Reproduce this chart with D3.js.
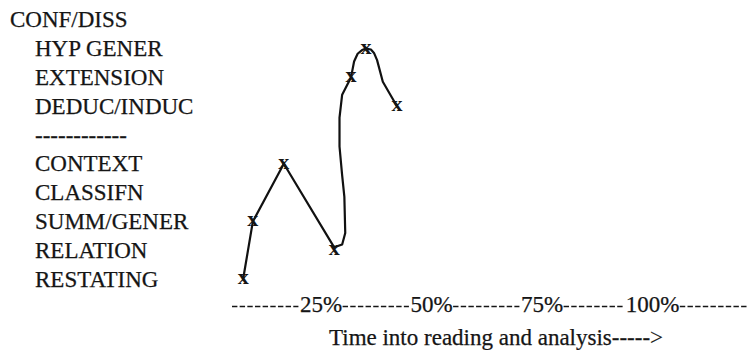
<!DOCTYPE html>
<html>
<head>
<meta charset="utf-8">
<script src="https://cdn.jsdelivr.net/npm/d3@7"></script>
<style>
  html, body { margin: 0; padding: 0; background: #fff; }
  svg { display: block; }
  text { font-family: "Liberation Serif", "DejaVu Serif", serif; fill: #151515; }
</style>
</head>
<body>
<svg id="chart" width="748" height="350"></svg>
<script>
// Category rows, bottom to top
const categories = ["RESTATING", "RELATION", "SUMM/GENER", "CLASSIFN", "CONTEXT",
                    "------------", "DEDUC/INDUC", "EXTENSION", "HYP GENER", "CONF/DISS"];
const headerCategory = "CONF/DISS";

// Marked observations (x) : percent of time, category
const markerPct = [7.5, 9.7, 16.7, 28.1, 31.9, 35.3, 42.3];
const markerCat = ["RESTATING", "SUMM/GENER", "CONTEXT", "RELATION", "EXTENSION", "HYP GENER", "DEDUC/INDUC"];

// Hand-drawn pen trace (percent, row level)
const tracePct   = [7.5, 9.7, 16.7, 28.1, 29.9, 30.6, 30.4, 29.9, 29.3, 29.3, 29.9, 31.9, 32.6, 33.4, 34.4, 35.3, 36.4, 37.1, 37.8, 39.1, 42.3];
const traceLevel = [0.0, 2.0, 4.0, 1.1, 1.2, 1.6, 2.85, 3.6, 4.6, 5.6, 6.4, 7.0, 7.55, 7.82, 7.95, 8.0, 7.97, 7.85, 7.6, 6.85, 6.0];

// X axis ticks
const tickValues = [25, 50, 75, 100];
const tickLabels = ["25%", "50%", "75%", "100%"];
const xTitle = "Time into reading and analysis----->";

const svg = d3.select("#chart");
const FS = 23;

const x = d3.scaleLinear().domain([0, 100]).range([210, 652]);
const y = d3.scaleLinear().domain([0, categories.length - 1]).range([279, 19.8]);
const level = c => categories.indexOf(c);

// Row labels
svg.append("g").selectAll("text")
  .data(categories)
  .join("text")
  .attr("x", d => d === headerCategory ? 10 : 35)
  .attr("y", (d, i) => y(i))
  .attr("dy", "0.33em")
  .style("font-size", FS + "px")
  .style("stroke", "#151515")
  .style("stroke-width", 0.25)
  .text(d => d);

// Trace line
const line = d3.line()
  .x(d => x(d[0]))
  .y(d => y(d[1]))
  .curve(d3.curveLinear);
svg.append("path")
  .datum(tracePct.map((p, i) => [p, traceLevel[i]]))
  .attr("d", line)
  .attr("fill", "none")
  .attr("stroke", "#111")
  .attr("stroke-width", 2.2)
  .attr("stroke-linejoin", "round")
  .attr("stroke-linecap", "round");

// Markers
svg.append("g").selectAll("text")
  .data(markerPct.map((p, i) => [p, level(markerCat[i])]))
  .join("text")
  .attr("x", d => x(d[0]))
  .attr("y", d => y(d[1]))
  .attr("dy", "0.23em")
  .attr("text-anchor", "middle")
  .style("font-size", "22px")
  .style("font-weight", "bold")
  .text("x");

// X axis (typewriter style)
const axisY = 312;
const axis = d3.axisBottom(x)
  .tickValues(tickValues)
  .tickFormat((d, i) => tickLabels[i])
  .tickSize(0);
const gx = svg.append("g").attr("transform", `translate(0,${axisY})`).call(axis);
gx.select(".domain").remove();
gx.selectAll("text")
  .attr("y", 0).attr("dy", 0)
  .attr("fill", "#151515")
  .style("font-size", FS + "px")
  .style("stroke", "#151515")
  .style("stroke-width", 0.25)
  .style("font-family", '"Liberation Serif", serif');

// dashes between labels
const bounds = [];
gx.selectAll(".tick").each(function(d) {
  const w = this.querySelector("text").getComputedTextLength();
  bounds.push([x(d) - w / 2, x(d) + w / 2]);
});
const segs = [];
let start = 232;
bounds.forEach(b => { segs.push([start, b[0] - 1]); start = b[1] + 1; });
segs.push([start, 752]);
svg.append("g").selectAll("line")
  .data(segs)
  .join("line")
  .attr("x1", d => d[0]).attr("x2", d => d[1])
  .attr("y1", axisY - 5.5).attr("y2", axisY - 5.5)
  .attr("stroke", "#151515")
  .attr("stroke-width", 1.7)
  .attr("stroke-dasharray", "5.4,2.26");

svg.append("text")
  .attr("x", 329)
  .attr("y", 345)
  .style("font-size", FS + "px")
  .style("stroke", "#151515")
  .style("stroke-width", 0.25)
  .text(xTitle);
</script>
</body>
</html>
